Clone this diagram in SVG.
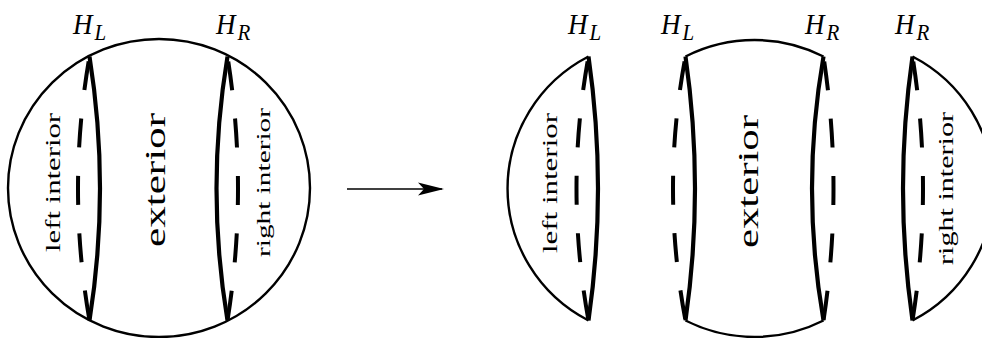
<svg xmlns="http://www.w3.org/2000/svg" width="982" height="338" viewBox="0 0 982 338">
<defs>
<style>
.outline{fill:none;stroke:#000;stroke-width:2.4}
.horizon{fill:none;stroke:#000;stroke-width:4.2}
.dashed{fill:none;stroke:#000;stroke-width:4;stroke-dasharray:29 28.5;stroke-dashoffset:52.5}
.hlab{font-family:"Liberation Serif",serif;font-style:italic;font-size:27px;fill:#000}
.sub{font-size:21px}
.word{font-family:"Liberation Serif",serif;fill:#000}
.arrowline{stroke:#000;stroke-width:1.6;fill:none}
</style>
<marker id="stealth" viewBox="0 0 26 14" refX="24" refY="7" markerWidth="26" markerHeight="14" markerUnits="userSpaceOnUse" orient="auto">
<path d="M26,7 L0,0.5 L6,7 L0,13.5 Z" fill="#000"/>
</marker>
</defs>
<rect width="982" height="338" fill="#fff"/>

<g id="whole-disc">
<ellipse class="outline" cx="159" cy="188" rx="151" ry="149"/>
<path class="horizon" d="M89.5,56.5 Q110.5,188.5 89.5,320.5"/>
<path class="dashed" d="M89.5,56.5 Q66.5,188.5 89.5,320.5"/>
<path class="horizon" d="M227.5,56.5 Q205.5,188.5 227.5,320.5"/>
<path class="dashed" d="M227.5,56.5 Q248.5,188.5 227.5,320.5"/>
<text class="hlab" transform="translate(73,34) scale(1,1.1)">H<tspan class="sub" dx="2" dy="5">L</tspan></text>
<text class="hlab" transform="translate(216,34) scale(1,1.1)">H<tspan class="sub" dx="2" dy="5">R</tspan></text>
<text class="word" font-size="21" transform="translate(60,252) rotate(-90)" textLength="139" lengthAdjust="spacingAndGlyphs">left interior</text>
<text class="word" font-size="30" transform="translate(165,247) rotate(-90)" textLength="134" lengthAdjust="spacingAndGlyphs">exterior</text>
<text class="word" font-size="18" transform="translate(270,257) rotate(-90)" textLength="149" lengthAdjust="spacingAndGlyphs">right interior</text>
</g>

<g id="connectors">
<line class="arrowline" x1="347" y1="189" x2="442" y2="189" marker-end="url(#stealth)"/>
</g>

<g id="left-interior-piece">
<path class="outline" d="M588.5,56.5 A151,149 0 0 0 588.5,320.5"/>
<path class="horizon" d="M588.5,56.5 Q607.5,188.5 588.5,320.5"/>
<path class="dashed" d="M588.5,56.5 Q564.5,188.5 588.5,320.5"/>
<text class="hlab" transform="translate(568,34) scale(1,1.1)">H<tspan class="sub" dx="2" dy="5">L</tspan></text>
<text class="word" font-size="21" transform="translate(557,253) rotate(-90)" textLength="140" lengthAdjust="spacingAndGlyphs">left interior</text>
</g>

<g id="exterior-piece">
<path class="outline" d="M685.5,56.5 A151,149 0 0 1 823.5,56.5"/>
<path class="outline" d="M823.5,320.5 A151,149 0 0 1 685.5,320.5"/>
<path class="horizon" d="M685.5,56.5 Q704.5,188.5 685.5,320.5"/>
<path class="dashed" d="M685.5,56.5 Q660.5,188.5 685.5,320.5"/>
<path class="horizon" d="M823.5,56.5 Q800.5,188.5 823.5,320.5"/>
<path class="dashed" d="M823.5,56.5 Q843.5,188.5 823.5,320.5"/>
<text class="hlab" transform="translate(661,34) scale(1,1.1)">H<tspan class="sub" dx="2" dy="5">L</tspan></text>
<text class="hlab" transform="translate(805,34) scale(1,1.1)">H<tspan class="sub" dx="2" dy="5">R</tspan></text>
<text class="word" font-size="30" transform="translate(758,248) rotate(-90)" textLength="133" lengthAdjust="spacingAndGlyphs">exterior</text>
</g>

<g id="right-interior-piece">
<path class="outline" d="M912.5,56.5 A151,149 0 0 1 912.5,320.5"/>
<path class="horizon" d="M912.5,56.5 Q893.5,188.5 912.5,320.5"/>
<path class="dashed" d="M912.5,56.5 Q933.5,188.5 912.5,320.5"/>
<text class="hlab" transform="translate(895,34) scale(1,1.1)">H<tspan class="sub" dx="2" dy="5">R</tspan></text>
<text class="word" font-size="21" transform="translate(953,265) rotate(-90)" textLength="153" lengthAdjust="spacingAndGlyphs">right interior</text>
</g>
</svg>
